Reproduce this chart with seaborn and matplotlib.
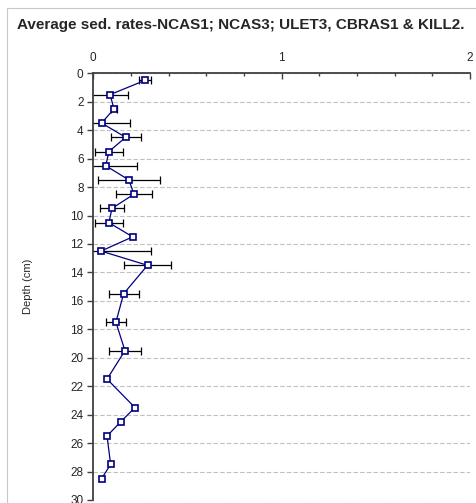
import matplotlib
matplotlib.use("Agg")
import matplotlib.pyplot as plt
import numpy as np
import pandas as pd
import seaborn as sns
from matplotlib.patches import Rectangle
from matplotlib.ticker import MultipleLocator

# kedalaman (cm) dan laju sedimentasi rata-rata
depth = [0.5, 1.5, 2.5, 3.5, 4.5, 5.5, 6.5, 7.5, 8.5, 9.5, 10.5, 11.5,
         12.5, 13.5, 15.5, 17.5, 19.5, 21.5, 23.5, 24.5, 25.5, 27.5, 28.5]
rate = [0.274, 0.089, 0.110, 0.044, 0.172, 0.083, 0.066, 0.189, 0.216, 0.099, 0.083, 0.209,
        0.041, 0.288, 0.161, 0.120, 0.168, 0.073, 0.221, 0.146, 0.073, 0.092, 0.044]
err = [0.033, 0.097, 0.016, 0.150, 0.080, 0.076, 0.167, 0.163, 0.094, 0.062, 0.076, np.nan,
       0.265, 0.124, 0.080, 0.051, 0.086, np.nan, np.nan, np.nan, np.nan, np.nan, np.nan]

df = pd.DataFrame({"rate": rate, "depth": depth, "err": err})

sns.set_style("white")
plt.rcParams["font.family"] = ["Liberation Sans", "DejaVu Sans"]

fig = plt.figure(figsize=(4.77, 5.03), dpi=100)
ax = fig.add_axes([0.1956, 0.006, 0.7897, 0.8483])

ax.errorbar(df["rate"], df["depth"], xerr=df["err"], fmt="none", ecolor="black",
            elinewidth=0.9, capsize=3, capthick=0.9, zorder=2)
sns.lineplot(data=df, x="rate", y="depth", sort=False, estimator=None, errorbar=None,
             color="#000080", lw=0.9,
             marker="s", markersize=5, markerfacecolor="white", markeredgecolor="#000080",
             markeredgewidth=1.2, ax=ax, zorder=3)

ax.set_xlim(0, 2)
ax.set_ylim(30, 0)
ax.xaxis.tick_top()
ax.xaxis.set_major_locator(MultipleLocator(1))
ax.xaxis.set_minor_locator(MultipleLocator(0.2))
ax.yaxis.set_major_locator(MultipleLocator(2))
ax.tick_params(axis="x", which="both", direction="in", top=True, bottom=False,
               labelsize=8.5, pad=7, color="#404040")
ax.tick_params(axis="x", which="major", length=4, width=1)
ax.tick_params(axis="x", which="minor", length=2.5, width=1)
ax.tick_params(axis="y", which="major", direction="out", left=True, length=4, width=1,
               labelsize=8.5, pad=3, color="#404040")

for k in ["right", "bottom"]:
    ax.spines[k].set_visible(False)
for k in ["left", "top"]:
    ax.spines[k].set_color("#404040")
    ax.spines[k].set_linewidth(1.3)

ax.grid(axis="y", color="#c0c0c0", linestyle=(0, (4, 2)), linewidth=0.8)
ax.grid(axis="x", visible=False)
ax.set_axisbelow(True)

ax.set_xlabel("")
ax.set_ylabel("Depth (cm)", fontsize=8, labelpad=27)

fig.text(0.036, 0.95, "Average sed. rates-NCAS1; NCAS3; ULET3, CBRAS1 & KILL2.",
         fontsize=11, fontweight="bold", ha="left", va="center")

fig.patches.append(Rectangle((7 / 477, -0.1), 1.2, 1.1 - 8 / 503,
                             transform=fig.transFigure, fill=False,
                             edgecolor="#c8c8c8", linewidth=0.8))

fig.savefig("out.png", dpi=100)
